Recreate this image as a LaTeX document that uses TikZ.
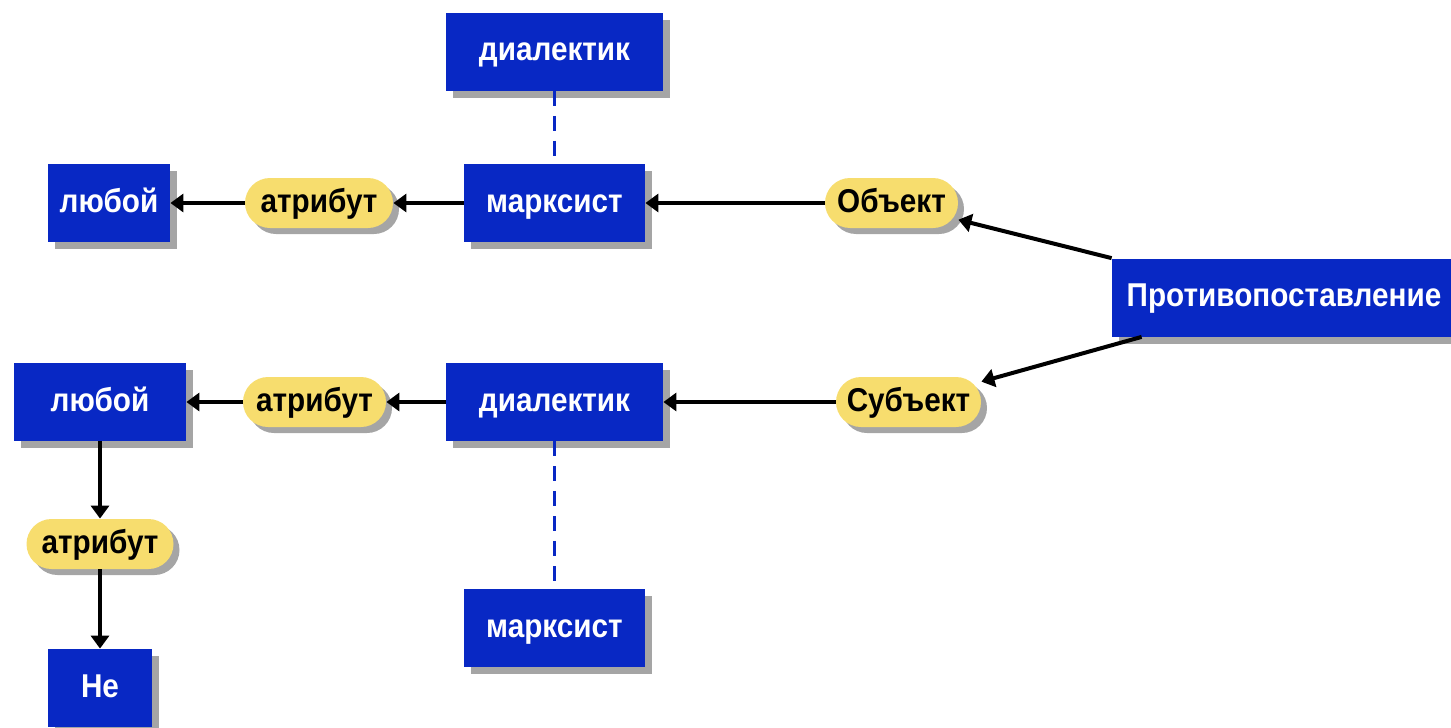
\documentclass[tikz,border=0pt]{standalone}
\usepackage{fontspec}
\setmainfont[FakeStretch=0.9]{Liberation Sans}
\usetikzlibrary{shadows,arrows.meta}
\definecolor{boxblue}{RGB}{8,40,196}
\definecolor{ovalyellow}{RGB}{247,221,110}
\definecolor{shadowgray}{RGB}{165,165,165}
\begin{document}
\begin{tikzpicture}[x=0.5pt, y=-0.5pt,
    concept/.style={rectangle, fill=boxblue, text=white, inner sep=0pt,
      font=\bfseries\fontsize{16.5}{19}\selectfont, text height=9pt, text depth=0pt,
      minimum height=39pt,
      general shadow={fill=shadowgray, shadow xshift=3.5pt, shadow yshift=-3.5pt}},
    role/.style={rectangle, rounded corners=12.5pt, fill=ovalyellow, text=black, inner sep=0pt,
      font=\bfseries\fontsize{16.5}{19}\selectfont, text height=9pt, text depth=0pt,
      minimum height=25pt,
      general shadow={fill=shadowgray, shadow xshift=3pt, shadow yshift=-3pt}},
    link/.style={line width=2pt, -{Triangle[length=6.5pt, width=9pt]}},
    tie/.style={boxblue, line width=1.5pt, dash pattern=on 7.5pt off 5pt}]
      \useasboundingbox (0,0) rectangle (1451,728);
      % \draw[help lines, step=50] (0,0) grid (1451,728);
      \node[concept, minimum width=108.5pt] (dtop) at (554.5,51.5) {диалектик};
      \node[concept, minimum width=90.5pt] (mtop) at (554.5,203) {марксист};
      \node[concept, minimum width=61pt] (ltop) at (109,203) {любой};
      \node[role, minimum width=74pt] (atop) at (319,203) {атрибут};
      \node[role, minimum width=66.5pt] (obj) at (891.5,203) {Объект};
      \node[concept, minimum width=172pt] (prot) at (1284,297.5) {Противопоставление};
      \node[role, minimum width=72.5pt] (subj) at (908.5,402) {Субъект};
      \node[concept, minimum width=108.5pt] (dmid) at (554.5,402) {диалектик};
      \node[concept, minimum width=86pt] (lmid) at (100,402) {любой};
      \node[role, minimum width=71.5pt] (amid) at (314.5,402) {атрибут};
      \node[role, minimum width=73.5pt] (alow) at (100,544) {атрибут};
      \node[concept, minimum width=52pt] (ne) at (100,688) {Не};
      \node[concept, minimum width=90.5pt] (mbot) at (554.5,628) {марксист};
      \draw[tie] (dtop) -- (mtop);
      \draw[tie] (dmid) -- (mbot);
      \draw[link] (obj) -- (mtop);
      \draw[link] (mtop) -- (atop);
      \draw[link] (atop) -- (ltop);
      \draw[link] (subj) -- (dmid);
      \draw[link] (dmid) -- (amid);
      \draw[link] (amid) -- (lmid);
      \draw[link] (lmid) -- (alow);
      \draw[link] (alow) -- (ne);
      \draw[link] (prot.north west) -- (obj);
      \draw[link] ([xshift=15pt]prot.south west) -- (subj);
\end{tikzpicture}
\end{document}
